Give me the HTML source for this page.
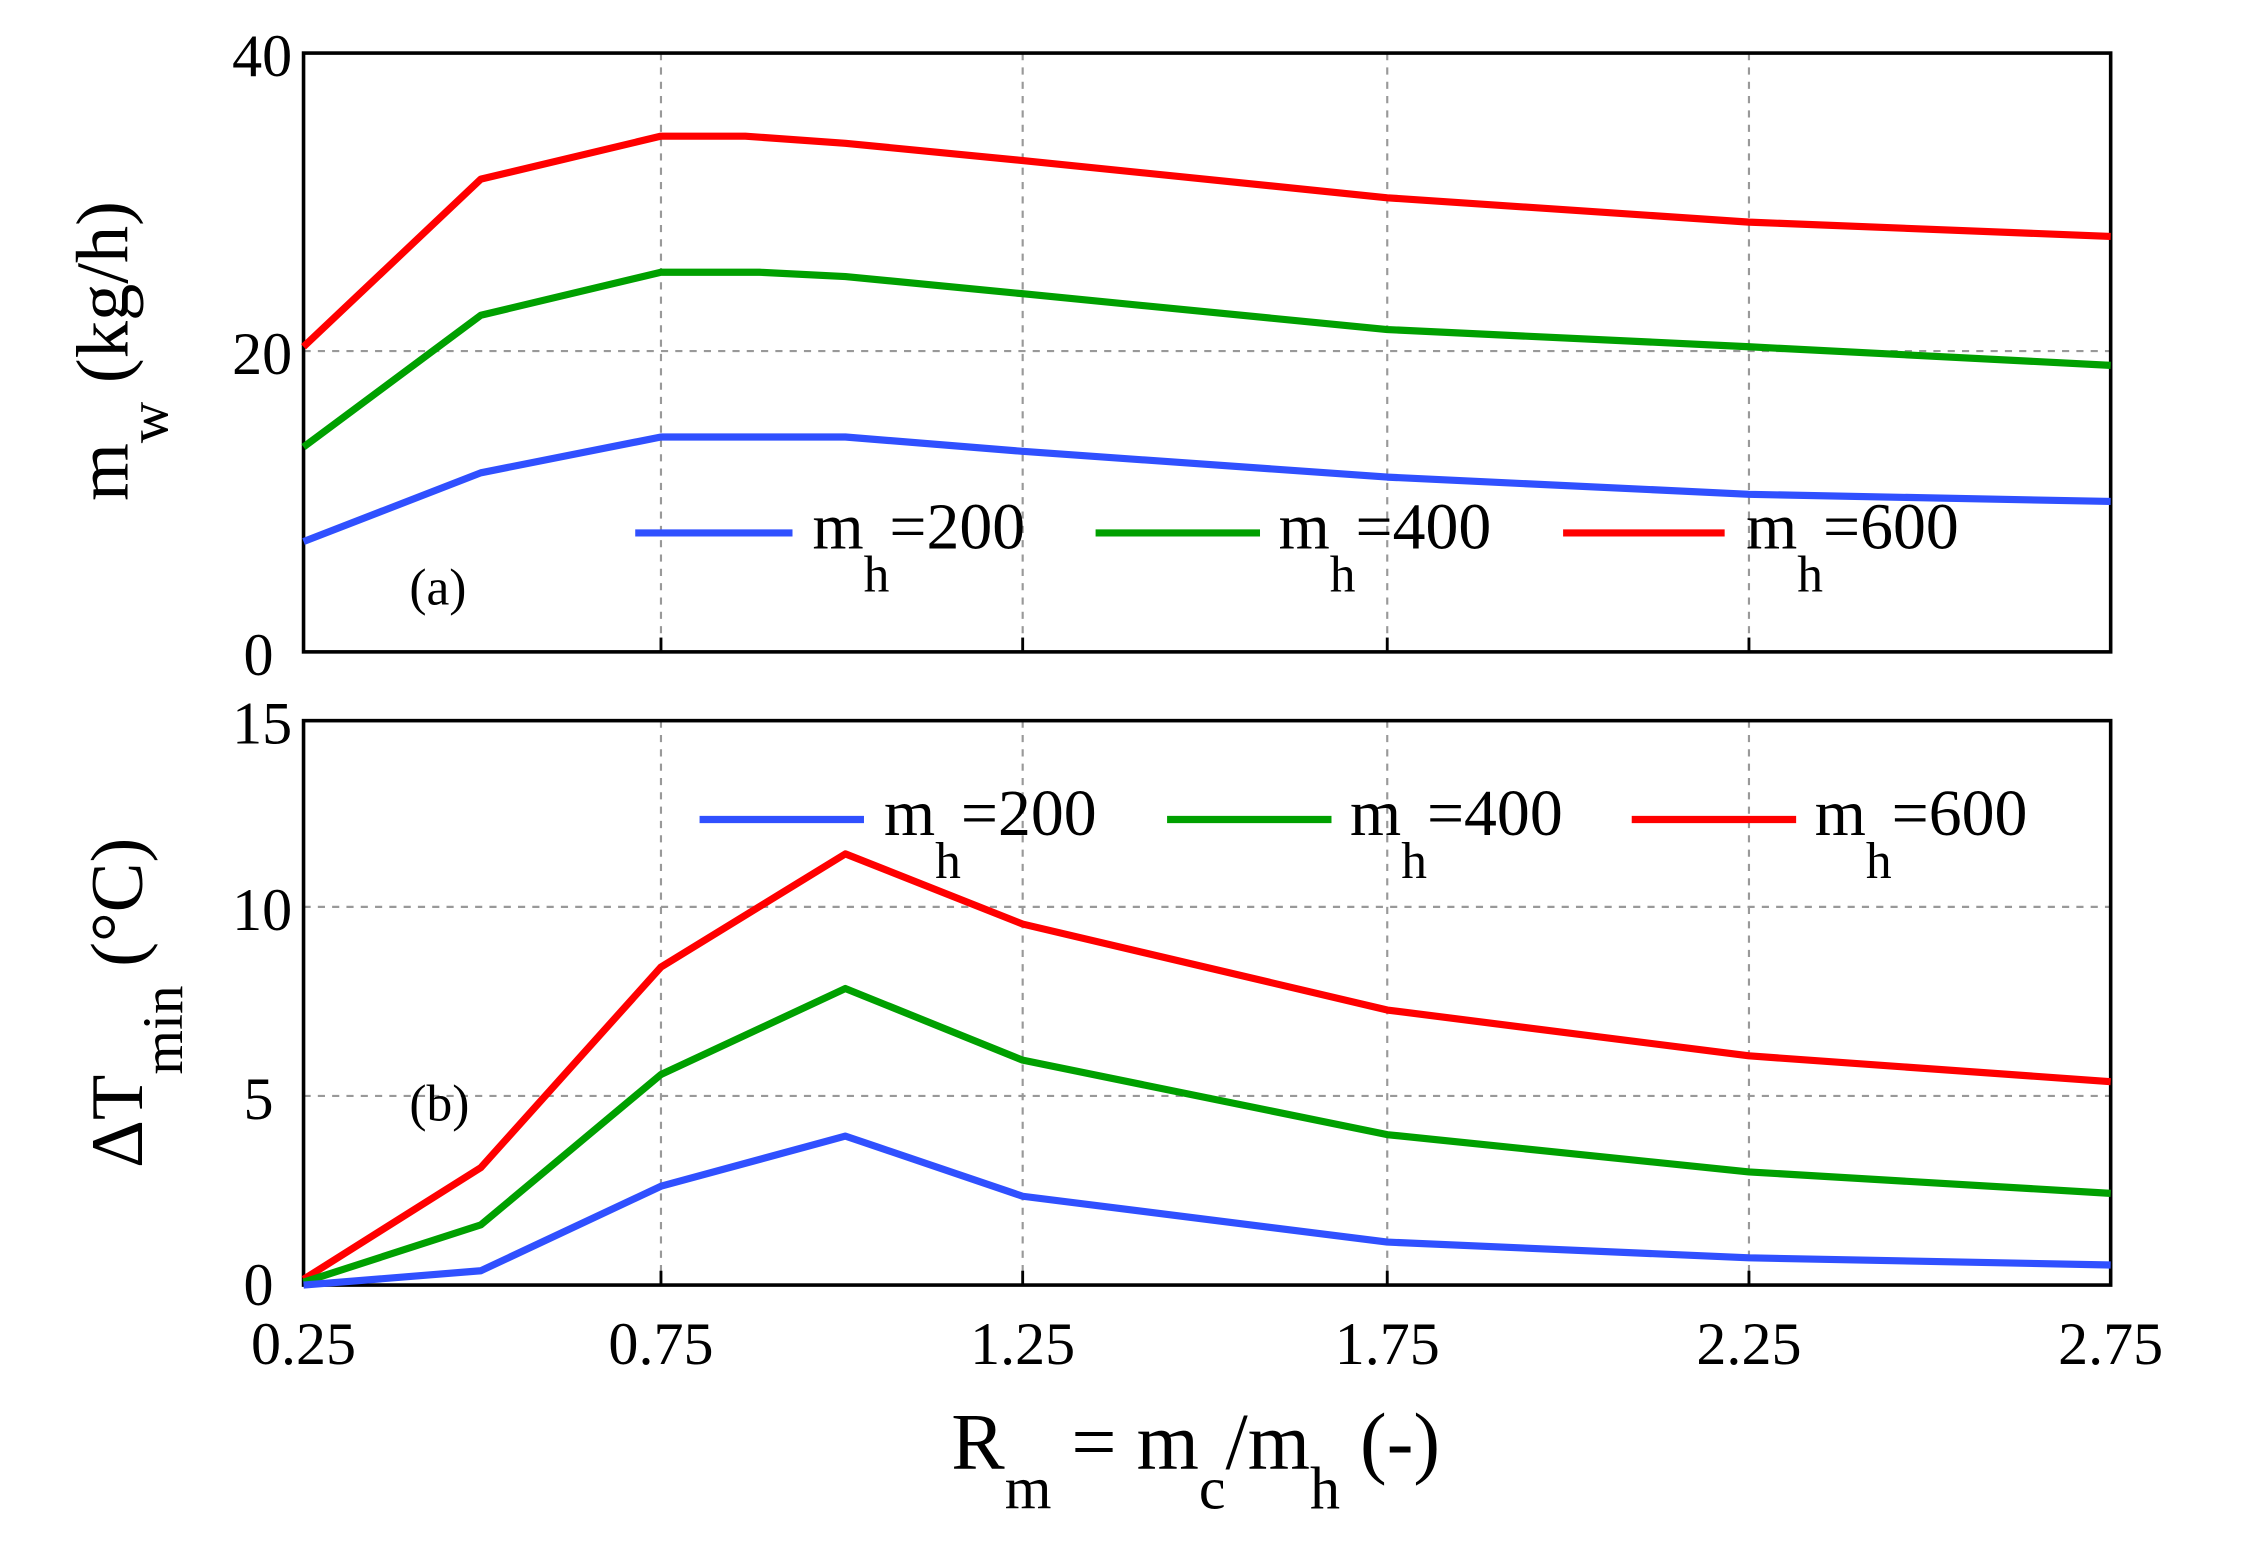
<!DOCTYPE html>
<html><head><style>html,body{margin:0;padding:0;background:#fff}svg{display:block}</style></head>
<body>
<svg width="2245" height="1553" viewBox="0 0 1553 1074" preserveAspectRatio="none" xmlns="http://www.w3.org/2000/svg" font-family="'Liberation Serif',serif">
<g transform="translate(1.3,0.05) scale(0.989,0.9907)">
<g stroke="#999" stroke-width="1.5" stroke-dasharray="5,5">
<line x1="461" y1="37" x2="461" y2="455"/><line x1="714" y1="37" x2="714" y2="455"/><line x1="969" y1="37" x2="969" y2="455"/><line x1="1222" y1="37" x2="1222" y2="455"/>
<line x1="211" y1="245" x2="1475" y2="245"/>
<line x1="461" y1="503" x2="461" y2="897"/><line x1="714" y1="503" x2="714" y2="897"/><line x1="969" y1="503" x2="969" y2="897"/><line x1="1222" y1="503" x2="1222" y2="897"/>
<line x1="211" y1="633" x2="1475" y2="633"/><line x1="211" y1="765" x2="1475" y2="765"/>
</g>
<g fill="none" stroke="#000" stroke-width="2.5">
<rect x="211" y="37" width="1264" height="418"/>
<rect x="211" y="503" width="1264" height="394"/>
</g>
<g stroke="#000" stroke-width="2">
<line x1="461" y1="455" x2="461" y2="445"/><line x1="714" y1="455" x2="714" y2="445"/><line x1="969" y1="455" x2="969" y2="445"/><line x1="1222" y1="455" x2="1222" y2="445"/>
<line x1="461" y1="897" x2="461" y2="887"/><line x1="714" y1="897" x2="714" y2="887"/><line x1="969" y1="897" x2="969" y2="887"/><line x1="1222" y1="897" x2="1222" y2="887"/>
</g>
<g fill="none" stroke-width="5" stroke-linejoin="round">
<polyline stroke="#ff0000" points="211,242 335,125 461,95 520,95 590,100 714,112 969,138 1222,155 1475,165"/>
<polyline stroke="#00a000" points="211,312 335,220 461,190 530,190 590,193 714,205 969,230 1222,242 1475,255"/>
<polyline stroke="#3050ff" points="211,378 335,330 461,305 590,305 714,315 969,333 1222,345 1475,350"/>
<polyline stroke="#ff0000" points="211,893 335,815 461,675 590,596 714,645 969,705 1222,737 1475,755"/>
<polyline stroke="#00a000" points="211,895 335,855 461,750 590,690 714,740 969,792 1222,818 1475,833"/>
<polyline stroke="#3050ff" points="211,897 335,887 461,828 590,793 714,835 969,867 1222,878 1475,883"/>
<line stroke="#3050ff" x1="443" y1="372" x2="553" y2="372"/>
<line stroke="#00a000" x1="765" y1="372" x2="880" y2="372"/>
<line stroke="#ff0000" x1="1092" y1="372" x2="1205" y2="372"/>
<line stroke="#3050ff" x1="488" y1="572" x2="603" y2="572"/>
<line stroke="#00a000" x1="815" y1="572" x2="930" y2="572"/>
<line stroke="#ff0000" x1="1140" y1="572" x2="1255" y2="572"/>
</g>
<g font-size="46" fill="#000">
<text x="567" y="383">m<tspan font-size="36" dy="30">h</tspan><tspan dy="-30">=200</tspan></text>
<text x="893" y="383">m<tspan font-size="36" dy="30">h</tspan><tspan dy="-30">=400</tspan></text>
<text x="1220" y="383">m<tspan font-size="36" dy="30">h</tspan><tspan dy="-30">=600</tspan></text>
<text x="617" y="583">m<tspan font-size="36" dy="30">h</tspan><tspan dy="-30">=200</tspan></text>
<text x="943" y="583">m<tspan font-size="36" dy="30">h</tspan><tspan dy="-30">=400</tspan></text>
<text x="1268" y="583">m<tspan font-size="36" dy="30">h</tspan><tspan dy="-30">=600</tspan></text>
</g>
<g font-size="36"><text x="285" y="422">(a)</text><text x="285" y="782">(b)</text></g>
<g font-size="42" text-anchor="end">
<text x="203" y="53">40</text><text x="203" y="261">20</text><text x="190" y="471">0</text>
<text x="203" y="519">15</text><text x="203" y="649">10</text><text x="190" y="781">5</text><text x="190" y="911">0</text>
</g>
<g font-size="42" text-anchor="middle">
<text x="211" y="952">0.25</text><text x="461" y="952">0.75</text><text x="714" y="952">1.25</text><text x="969" y="952">1.75</text><text x="1222" y="952">2.25</text><text x="1475" y="952">2.75</text>
</g>
<text transform="translate(88,245) rotate(-90)" font-size="52" text-anchor="middle">m<tspan font-size="40" dy="28">w</tspan><tspan dy="-28"> (kg/h)</tspan></text>
<text transform="translate(98,700) rotate(-90)" font-size="52" text-anchor="middle">ΔT<tspan font-size="40" dy="28">min</tspan><tspan dy="-28"> (°C)</tspan></text>
<text x="835" y="1025" font-size="56" text-anchor="middle">R<tspan font-size="42" dy="28">m</tspan><tspan dy="-28"> = m</tspan><tspan font-size="42" dy="28">c</tspan><tspan dy="-28">/m</tspan><tspan font-size="42" dy="28">h</tspan><tspan dy="-28"> (-)</tspan></text>
</g>
</svg>
</body></html>
